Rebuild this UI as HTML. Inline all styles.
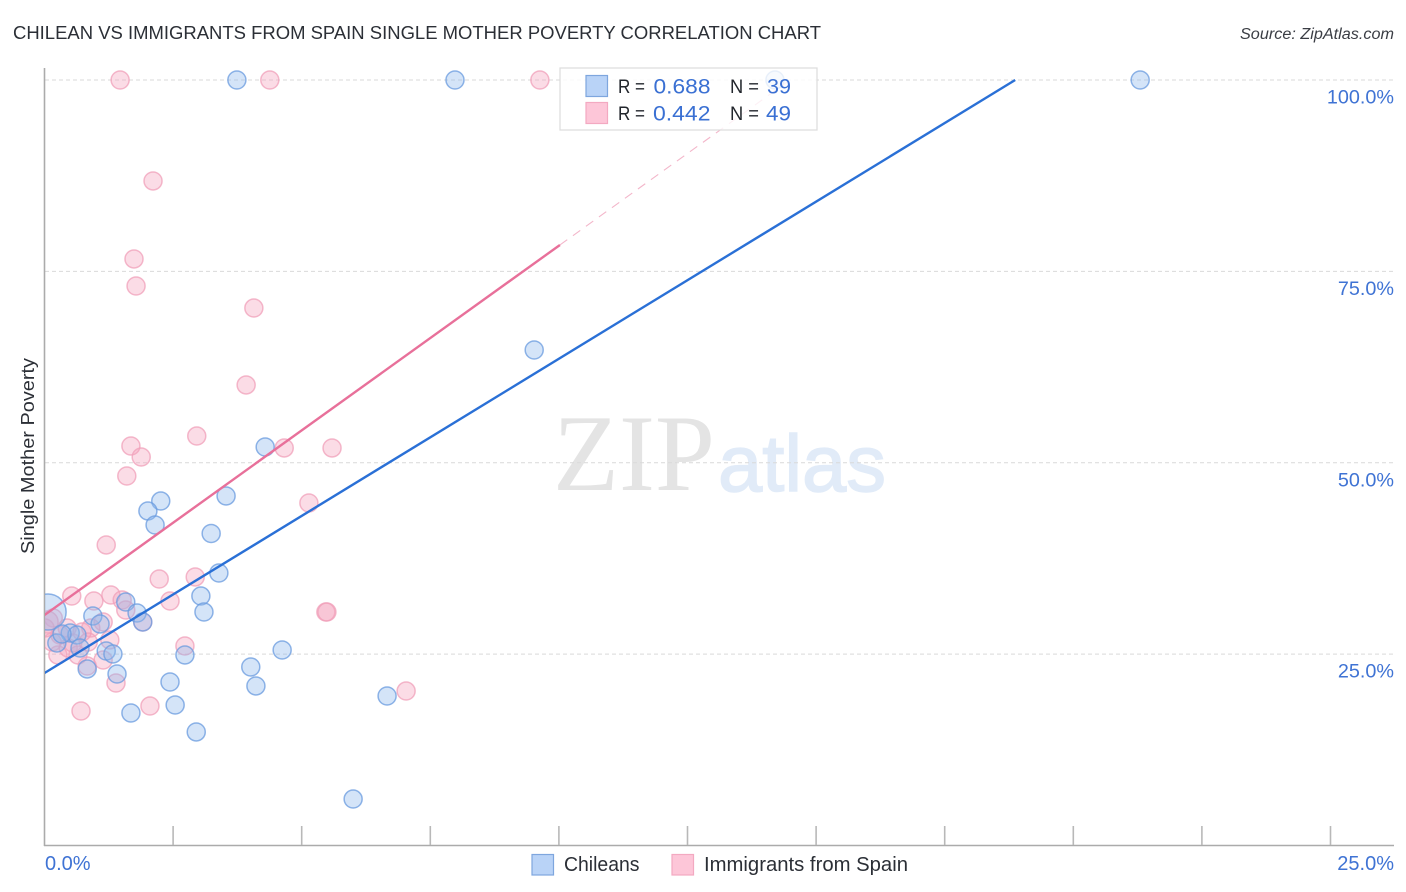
<!DOCTYPE html>
<html lang="en">
<head>
<meta charset="utf-8">
<title>Chilean vs Immigrants from Spain Single Mother Poverty Correlation Chart</title>
<style>
html,body{margin:0;padding:0;background:#fff;width:1406px;height:892px;overflow:hidden}
svg{display:block;font-family:"Liberation Sans",sans-serif}
#pink-points,#blue-points{filter:blur(0.35px)}
</style>
</head>
<body>
<svg id="chart" xmlns="http://www.w3.org/2000/svg" width="1406" height="892" viewBox="0 0 1406 892">
  <defs>
    <clipPath id="plot-clip"><rect x="45" y="60" width="1349" height="786"/></clipPath>
  </defs>
  <text x="13" y="39" font-size="18.5" fill="#2b2f36" textLength="808" lengthAdjust="spacingAndGlyphs">CHILEAN VS IMMIGRANTS FROM SPAIN SINGLE MOTHER POVERTY CORRELATION CHART</text>
  <text x="1394" y="39" font-size="15.5" font-style="italic" fill="#3a3d44" text-anchor="end" textLength="154" lengthAdjust="spacingAndGlyphs">Source: ZipAtlas.com</text>

  <g>
    <text x="553" y="490" font-family="'Liberation Serif',serif" font-size="109" fill="#e4e4e4" textLength="162" lengthAdjust="spacingAndGlyphs">ZIP</text>
    <text x="718" y="491" font-family="'Liberation Sans',sans-serif" font-size="80" fill="#e1ebf8" stroke="#e1ebf8" stroke-width="1.5" textLength="168" lengthAdjust="spacingAndGlyphs">atlas</text>
  </g>

  <g id="grid"></g>
  <g id="axes"></g>
  <g id="pink-points" clip-path="url(#plot-clip)"></g>
  <g id="blue-points" clip-path="url(#plot-clip)"></g>
  <g id="trends" clip-path="url(#plot-clip)"></g>

  <g>
    <rect x="560" y="68" width="257" height="62" fill="#fff" fill-opacity="0.8" stroke="#dcdcdc" stroke-width="1.2"/>
    <rect x="586" y="75.5" width="21.5" height="21" fill="#b9d3f7" stroke="#7ea6de" stroke-width="1.2"/>
    <rect x="586" y="102.5" width="21.5" height="21" fill="#fdc6d8" stroke="#f3a9c1" stroke-width="1.2"/>
    <g font-size="19.5" fill="#22262c">
      <text x="618" y="93" textLength="27" lengthAdjust="spacingAndGlyphs">R =</text>
      <text x="730" y="93" textLength="29" lengthAdjust="spacingAndGlyphs">N =</text>
      <text x="618" y="120" textLength="27" lengthAdjust="spacingAndGlyphs">R =</text>
      <text x="730" y="120" textLength="29" lengthAdjust="spacingAndGlyphs">N =</text>
    </g>
    <g font-size="21" fill="#3a70d3">
      <text x="653.5" y="93.5" textLength="57" lengthAdjust="spacingAndGlyphs">0.688</text>
      <text x="767" y="93.5" textLength="24" lengthAdjust="spacingAndGlyphs">39</text>
      <text x="653" y="120.5" textLength="57.5" lengthAdjust="spacingAndGlyphs">0.442</text>
      <text x="766" y="120.5" textLength="25" lengthAdjust="spacingAndGlyphs">49</text>
    </g>
  </g>

  <text transform="translate(34 456) rotate(-90)" font-size="18.5" fill="#2b2f36" text-anchor="middle" textLength="196" lengthAdjust="spacingAndGlyphs">Single Mother Poverty</text>

  <g>
    <g>
      <rect x="532" y="854.5" width="21.5" height="20.5" fill="#b9d3f7" stroke="#7ea6de" stroke-width="1.2"/>
      <text x="564" y="871" font-size="20" fill="#2b2f36" textLength="75.5" lengthAdjust="spacingAndGlyphs">Chileans</text>
    </g>
    <g>
      <rect x="672" y="854.5" width="21.5" height="20.5" fill="#fdc6d8" stroke="#f3a9c1" stroke-width="1.2"/>
      <text x="704" y="871" font-size="20" fill="#2b2f36" textLength="204" lengthAdjust="spacingAndGlyphs">Immigrants from Spain</text>
    </g>
  </g>
</svg>
<script>
var xTickValues = [2.5, 5, 7.5, 10, 12.5, 15, 17.5, 20, 22.5, 25];
var yTickValues = [25, 50, 75, 100];
var yTickLabels = ["25.0%", "50.0%", "75.0%", "100.0%"];
var xEndValues = [0, 25];
var xEndLabels = ["0.0%", "25.0%"];

var blueX = [3.74,7.98,14.20,21.30,9.52,4.29,2.26,3.53,2.01,2.15,3.24,3.39,1.58,3.04,1.80,3.10,1.91,0.94,1.08,0.50,0.63,0.24,0.69,1.20,1.33,2.73,4.62,4.01,4.11,0.83,1.41,2.44,2.54,1.68,2.95,6.66,6.00,0.07,0.34];
var blueY = [100,100,100,100,64.73,52.06,45.00,45.66,43.70,41.87,40.76,35.60,31.81,32.59,30.37,30.50,29.20,29.98,28.94,27.76,27.50,26.45,25.80,25.41,25.02,24.89,25.54,23.32,20.84,23.06,22.40,21.36,18.35,17.31,14.83,19.53,6.07,30.50,27.63];
var blueWeight = [1,1,1,1,1,1,1,1,1,1,1,1,1,1,1,1,1,1,1,1,1,1,1,1,1,1,1,1,1,1,1,1,1,1,1,1,1,4,1];

var pinkX = [1.47,4.38,9.63,2.11,1.74,1.78,4.07,3.92,1.68,1.88,1.60,2.96,4.66,5.59,5.14,1.20,2.23,2.93,0.53,0.96,1.29,1.51,1.58,2.44,5.47,5.49,1.91,1.14,0.90,1.27,2.73,0.83,1.14,1.39,2.05,0.71,7.03,0.17,0.05,0.44,0.30,0.26,0.46,0.65,0.85,0.15,0.55,0.01,0.73];
var pinkY = [100,100,100,86.81,76.62,73.09,70.21,60.16,52.19,50.75,48.27,53.49,51.93,51.93,44.74,39.26,34.81,35.08,32.59,31.94,32.72,32.07,30.76,31.94,30.50,30.50,29.20,29.20,28.41,26.85,26.06,23.45,24.23,21.23,18.22,17.57,20.18,29.72,29.20,28.41,27.50,24.89,25.80,24.89,26.58,26.58,26.45,28.41,27.89];
var pinkWeight = [1,1,1,1,1,1,1,1,1,1,1,1,1,1,1,1,1,1,1,1,1,1,1,1,1,1,1,1,1,1,1,1,1,1,1,1,1,1,1.5,1,1,1,1,1,1,1,1,1,1];

var blueTrendX = [0, 18.87];
var blueTrendY = [22.53, 100];
var pinkSolidX = [0, 10.02];
var pinkSolidY = [30.1, 78.45];
var pinkDashX = [10.02, 14.49];
var pinkDashY = [78.45, 100];

var SVG_NS = "http://www.w3.org/2000/svg";
function xScale(v) { return 44.5 + v * 51.44; }
function yScale(v) { return 845.5 - v * 7.655; }
function make(tag, attrs, parent) {
  var el = document.createElementNS(SVG_NS, tag);
  for (var k in attrs) el.setAttribute(k, attrs[k]);
  parent.appendChild(el);
  return el;
}

var grid = document.getElementById("grid");
var axes = document.getElementById("axes");

yTickValues.forEach(function (v, i) {
  var line = make("line", {x1: 45, x2: 1394, y1: yScale(v), y2: yScale(v), stroke: "#d9d9d9", "stroke-width": 1.1, "stroke-dasharray": "4 3"}, grid);
  
  
  var label = make("text", {x: 1394, y: yScale(v) + 23.5, "font-size": 19.8, fill: "#3f73d4", "text-anchor": "end"}, axes);
  
  
  label.textContent = yTickLabels[i];
});

var yAxis = make("line", {x1: 44.5, x2: 44.5, y1: 68, y2: 846, stroke: "#ababab", "stroke-width": 1.6}, axes);


var xAxis = make("line", {x1: 44, x2: 1394, y1: 845.5, y2: 845.5, stroke: "#ababab", "stroke-width": 1.6}, axes);



xTickValues.forEach(function (v) {
  var tick = make("line", {x1: xScale(v), x2: xScale(v), y1: 826, y2: 845, stroke: "#b8b8b8", "stroke-width": 1.6}, axes);
  
  
});

xEndValues.forEach(function (v, i) {
  var atEnd = i === xEndValues.length - 1;
  var label = make("text", {x: atEnd ? 1394 : xScale(v) + 0.5, y: 870, "font-size": 20, fill: "#3f73d4", "text-anchor": atEnd ? "end" : "start"}, axes);
  
  
  label.textContent = xEndLabels[i];
});

function drawPoints(groupId, xs, ys, weights, fill, stroke, name) {
  var group = document.getElementById(groupId);
  xs.forEach(function (v, i) {
    var c = make("circle", {cx: xScale(v), cy: yScale(ys[i]), r: 9 * Math.sqrt(weights[i]), fill: fill, "fill-opacity": 0.38, stroke: stroke, "stroke-opacity": 0.75, "stroke-width": 1.5}, group);
    
    
  });
}
drawPoints("pink-points", pinkX, pinkY, pinkWeight, "#f5a3bd", "#f0a0ba", "immigrants-point");
drawPoints("blue-points", blueX, blueY, blueWeight, "#8fb8ec", "#6a9bdf", "chileans-point");

var trends = document.getElementById("trends");
var pinkDash = make("line", {x1: xScale(pinkDashX[0]), y1: yScale(pinkDashY[0]), x2: xScale(pinkDashX[1]), y2: yScale(pinkDashY[1]), stroke: "#f3b6ca", "stroke-width": 1.1, "stroke-dasharray": "9 7"}, trends);


var pinkSolid = make("line", {x1: xScale(pinkSolidX[0]), y1: yScale(pinkSolidY[0]), x2: xScale(pinkSolidX[1]), y2: yScale(pinkSolidY[1]), stroke: "#e8709a", "stroke-width": 2.4}, trends);


var blueTrend = make("line", {x1: xScale(blueTrendX[0]), y1: yScale(blueTrendY[0]), x2: xScale(blueTrendX[1]), y2: yScale(blueTrendY[1]), stroke: "#2a70d6", "stroke-width": 2.4}, trends);


</script>
</body>
</html>
